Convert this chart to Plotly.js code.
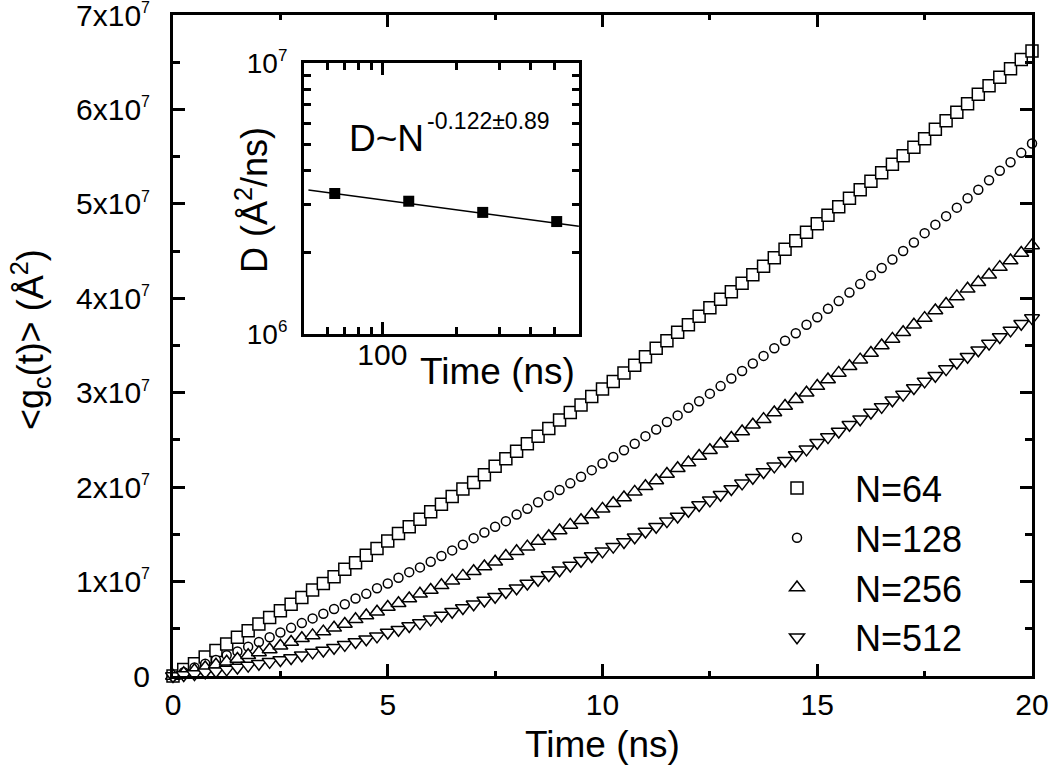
<!DOCTYPE html>
<html><head><meta charset="utf-8">
<script src="https://cdn.plot.ly/plotly-3.0.1.min.js"></script>
<style>html,body{margin:0;padding:0;background:#fff;} #chart{width:1050px;height:773px;}</style>
</head><body><div id="chart"></div>
<script>
// Time (ns)
const time = [0,0.25,0.5,0.75,1,1.25,1.5,1.75,2,2.25,2.5,2.75,3,3.25,3.5,3.75,4,4.25,4.5,4.75,5,5.25,5.5,5.75,6,6.25,6.5,6.75,7,7.25,7.5,7.75,8,8.25,8.5,8.75,9,9.25,9.5,9.75,10,10.25,10.5,10.75,11,11.25,11.5,11.75,12,12.25,12.5,12.75,13,13.25,13.5,13.75,14,14.25,14.5,14.75,15,15.25,15.5,15.75,16,16.25,16.5,16.75,17,17.25,17.5,17.75,18,18.25,18.5,18.75,19,19.25,19.5,19.75,20];
// <g_c(t)> in units of 1e7 Å^2
const n64 = [0,0.07,0.13,0.20,0.27,0.34,0.41,0.48,0.55,0.62,0.69,0.76,0.83,0.91,0.98,1.05,1.13,1.20,1.28,1.35,1.43,1.51,1.58,1.66,1.74,1.82,1.90,1.98,2.05,2.13,2.22,2.30,2.38,2.46,2.54,2.62,2.71,2.79,2.87,2.96,3.04,3.12,3.21,3.29,3.38,3.47,3.55,3.64,3.72,3.81,3.90,3.99,4.07,4.16,4.25,4.34,4.43,4.52,4.61,4.70,4.79,4.88,4.97,5.06,5.15,5.24,5.33,5.42,5.51,5.60,5.69,5.79,5.88,5.97,6.06,6.16,6.25,6.34,6.43,6.53,6.62];
const n128 = [0,0.04,0.09,0.13,0.17,0.22,0.26,0.31,0.36,0.41,0.46,0.51,0.56,0.61,0.66,0.71,0.76,0.82,0.87,0.93,0.98,1.04,1.10,1.15,1.21,1.27,1.33,1.39,1.46,1.52,1.58,1.64,1.71,1.77,1.84,1.91,1.97,2.04,2.11,2.18,2.25,2.32,2.39,2.46,2.54,2.61,2.69,2.76,2.84,2.91,2.99,3.07,3.15,3.23,3.31,3.39,3.47,3.55,3.63,3.72,3.80,3.89,3.97,4.06,4.15,4.24,4.32,4.41,4.50,4.59,4.69,4.78,4.87,4.96,5.06,5.15,5.25,5.35,5.44,5.54,5.64];
const n256 = [0,0.03,0.06,0.09,0.12,0.15,0.18,0.22,0.25,0.28,0.32,0.36,0.40,0.43,0.47,0.51,0.55,0.60,0.64,0.68,0.73,0.77,0.82,0.87,0.91,0.96,1.01,1.06,1.11,1.16,1.21,1.27,1.32,1.37,1.43,1.48,1.54,1.60,1.65,1.71,1.77,1.83,1.89,1.95,2.01,2.07,2.14,2.20,2.26,2.33,2.39,2.46,2.52,2.59,2.66,2.72,2.79,2.86,2.93,3.00,3.07,3.14,3.21,3.28,3.35,3.42,3.50,3.57,3.64,3.72,3.79,3.87,3.94,4.02,4.10,4.17,4.25,4.33,4.40,4.48,4.56];
const n512 = [0,0.01,0.02,0.04,0.05,0.07,0.09,0.11,0.13,0.15,0.17,0.19,0.22,0.25,0.27,0.30,0.33,0.36,0.39,0.42,0.46,0.49,0.53,0.56,0.60,0.64,0.68,0.72,0.76,0.80,0.84,0.89,0.93,0.98,1.02,1.07,1.12,1.17,1.22,1.27,1.32,1.37,1.42,1.47,1.53,1.58,1.64,1.69,1.75,1.81,1.86,1.92,1.98,2.04,2.10,2.16,2.22,2.28,2.34,2.40,2.47,2.53,2.59,2.66,2.72,2.79,2.85,2.92,2.98,3.05,3.12,3.18,3.25,3.32,3.38,3.45,3.52,3.59,3.66,3.73,3.79];
const UNIT = 1e7;
const seriesNames = ['N=64','N=128','N=256','N=512'];
const xTickVals = [0,5,10,15,20];
const yTickVals = [0,1e7,2e7,3e7,4e7,5e7,6e7,7e7];
const SUP7 = '<sup><span style="font-size:16px">7</span></sup>';
const yTickText = ['0','1x10'+SUP7,'2x10'+SUP7,'3x10'+SUP7,'4x10'+SUP7,'5x10'+SUP7,'6x10'+SUP7,'7x10'+SUP7];
// inset: D vs N
const insetN = [64,128,256,512];
const insetD = [3.30e6,3.09e6,2.81e6,2.60e6];
const fitN = [50,630];
const fitD = [3.40e6,2.50e6];
const insetXTickVals = [100];
const insetXTickText = ['100'];
const insetXMinor = [60,70,80,90,200,300,400,500];
const insetYTickVals = [1e6,1e7];
const insetYTickText = ['10<sup><span style="font-size:17px">6</span></sup>','10<sup><span style="font-size:17px">7</span></sup>'];
const insetYMinor = [2e6,3e6,4e6,5e6,6e6,7e6,8e6,9e6];

const FONT = 'Arial, "Liberation Sans", sans-serif';
const symbols = ['square','circle','triangle-up','triangle-down'];
const sizes = [12,9,13,13];
const data = [n64,n128,n256,n512].map((arr,i)=>({
  x: time, y: arr.map(v=>v*UNIT), mode:'markers', type:'scatter',
  name: seriesNames[i], legendgroup: seriesNames[i], cliponaxis:false,
  marker:{symbol:symbols[i], size:sizes[i], color:'white', line:{color:'black', width:1.5}},
  xaxis:'x', yaxis:'y'
}));
data.push({x:fitN, y:fitD, mode:'lines', type:'scatter', line:{color:'black', width:1.5}, showlegend:false, xaxis:'x2', yaxis:'y2'});
data.push({x:insetN, y:insetD, mode:'markers', type:'scatter', marker:{symbol:'square', size:11, color:'black'}, showlegend:false, xaxis:'x2', yaxis:'y2'});

const axBase = {ticks:'inside', tickwidth:3, tickcolor:'black', showline:true, linewidth:3, linecolor:'black', mirror:'ticks', showgrid:false, zeroline:false, ticklabeloverflow:'allow'};
const L = 173, T = 15, W = 859, H = 661;
const px = v => (v - L)/W, py = v => (T + H - v)/H;
const ann = (text, x, y, size, extra) => Object.assign({text, xref:'paper', yref:'paper', x:px(x), y:py(y), xanchor:'center', yanchor:'middle', showarrow:false, font:{size}}, extra||{});

const layout = {
  width:1050, height:773,
  margin:{l:173, r:18, t:15, b:97},
  paper_bgcolor:'white', plot_bgcolor:'white',
  font:{family:FONT, color:'black', size:30},
  showlegend:true,
  legend:{x:px(739), y:py(458), xanchor:'left', yanchor:'top', font:{size:36, family:FONT}, bgcolor:'rgba(0,0,0,0)', tracegroupgap:0, itemwidth:106},
  xaxis:Object.assign({}, axBase, {range:[0,20], tickvals:xTickVals, ticklen:12, tickfont:{size:30}, ticklabelstandoff:0,
    minor:{dtick:2.5, ticks:'inside', ticklen:5, tickwidth:3, tickcolor:'black', showgrid:false}}),
  yaxis:Object.assign({}, axBase, {range:[0,7e7], tickvals:yTickVals, ticktext:yTickText, ticklen:12, tickfont:{size:30}, ticklabelstandoff:14,
    minor:{dtick:5e6, ticks:'inside', ticklen:7, tickwidth:3, tickcolor:'black', showgrid:false}}),
  xaxis2:Object.assign({}, axBase, {type:'log', domain:[px(304), px(579)], anchor:'y2', range:[1.681,2.80], tickvals:insetXTickVals, ticktext:insetXTickText, ticklen:12, tickfont:{size:30}, ticklabelstandoff:-8,
    minor:{tickmode:'array', tickvals:insetXMinor, ticks:'inside', ticklen:7, tickwidth:3, tickcolor:'black', showgrid:false}}),
  yaxis2:Object.assign({}, axBase, {type:'log', domain:[py(334), py(63)], anchor:'x2', range:[6,7], tickvals:insetYTickVals, ticktext:insetYTickText, ticklen:12, tickfont:{size:28}, ticklabelstandoff:8,
    minor:{tickmode:'array', tickvals:insetYMinor, ticks:'inside', ticklen:7, tickwidth:3, tickcolor:'black', showgrid:false}}),
  annotations:[
    ann('&lt;g<sub>c</sub>(t)&gt; (Å<sup>2</sup>)', 30, 340, 36, {textangle:-90}),
    ann('Time (ns)', 602, 745, 37),
    ann('D (Å<sup>2</sup>/ns)', 252, 200, 36, {textangle:-90}),
    ann('Time (ns)', 497, 372, 37),
    ann('D~N', 347, 138, 37, {xanchor:'left'}),
    ann('-0.122±0.89', 425, 121, 23, {xanchor:'left'})
  ]
};
Plotly.newPlot('chart', data, layout, {displayModeBar:false, staticPlot:true});
</script></body></html>
